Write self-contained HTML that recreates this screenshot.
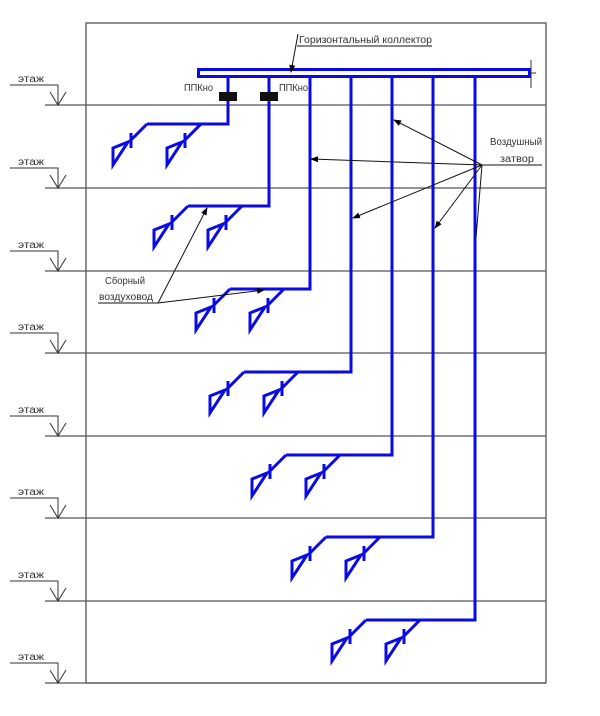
<!DOCTYPE html>
<html><head><meta charset="utf-8"><style>html,body{margin:0;padding:0;background:#fff}svg{display:block}</style></head>
<body>
<svg width="600" height="716" viewBox="0 0 600 716" xmlns="http://www.w3.org/2000/svg" font-family="Liberation Sans, sans-serif">
<defs>
<g id="spr" fill="none" stroke="#0a0ae6" stroke-width="3">
<path d="M0,0 L-18,18"/><path d="M-16,9 L-16,24"/><path d="M-19,18 L-34,24 L-34,41 Z"/>
</g>
<marker id="ar" markerWidth="8" markerHeight="6" refX="7" refY="3" orient="auto" markerUnits="userSpaceOnUse"><path d="M0,0 L8,3 L0,6 Z" fill="#000"/></marker>
</defs>
<g stroke="#555" stroke-width="1.3" fill="none">
<rect x="86" y="23" width="460" height="660"/>
<path d="M45,105H546M45,188H546M45,271H546M45,353H546M45,436H546M45,518H546M45,601H546M45,683H546"/>
</g>
<g stroke="#333" stroke-width="1" fill="none">
<path d="M10,85H58V105M50,92L58,105L66,92"/>
<path d="M10,168H58V188M50,175L58,188L66,175"/>
<path d="M10,251H58V271M50,258L58,271L66,258"/>
<path d="M10,333H58V353M50,340L58,353L66,340"/>
<path d="M10,416H58V436M50,423L58,436L66,423"/>
<path d="M10,498H58V518M50,505L58,518L66,505"/>
<path d="M10,581H58V601M50,588L58,601L66,588"/>
<path d="M10,663H58V683M50,670L58,683L66,670"/>
</g>
<g font-size="10" fill="#333">
<text x="18" y="82" textLength="26" lengthAdjust="spacingAndGlyphs">этаж</text>
<text x="18" y="165" textLength="26" lengthAdjust="spacingAndGlyphs">этаж</text>
<text x="18" y="248" textLength="26" lengthAdjust="spacingAndGlyphs">этаж</text>
<text x="18" y="330" textLength="26" lengthAdjust="spacingAndGlyphs">этаж</text>
<text x="18" y="413" textLength="26" lengthAdjust="spacingAndGlyphs">этаж</text>
<text x="18" y="495" textLength="26" lengthAdjust="spacingAndGlyphs">этаж</text>
<text x="18" y="578" textLength="26" lengthAdjust="spacingAndGlyphs">этаж</text>
<text x="18" y="660" textLength="26" lengthAdjust="spacingAndGlyphs">этаж</text>
</g>
<rect x="198.5" y="69.5" width="331" height="7" fill="none" stroke="#0a0ae6" stroke-width="3"/>
<path d="M531,60V88M531,73H536" stroke="#333" stroke-width="1"/>
<g fill="none" stroke="#0a0ae6" stroke-width="3">
<path d="M228,77V124H147"/>
<path d="M269,77V206H188"/>
<path d="M310,77V289H230"/>
<path d="M351,77V372H244"/>
<path d="M392,77V455H286"/>
<path d="M433,77V537H326"/>
<path d="M475,77V620H366"/>
</g>
<use href="#spr" x="147" y="124"/><use href="#spr" x="201" y="124"/>
<use href="#spr" x="188" y="206"/><use href="#spr" x="242" y="206"/>
<use href="#spr" x="230" y="289"/><use href="#spr" x="284" y="289"/>
<use href="#spr" x="244" y="372"/><use href="#spr" x="298" y="372"/>
<use href="#spr" x="286" y="455"/><use href="#spr" x="340" y="455"/>
<use href="#spr" x="326" y="537"/><use href="#spr" x="380" y="537"/>
<use href="#spr" x="366" y="620"/><use href="#spr" x="420" y="620"/>
<rect x="219" y="92" width="18" height="9" fill="#111"/>
<rect x="260" y="92" width="18" height="9" fill="#111"/>
<g font-size="10" fill="#333">
<text x="184" y="91" textLength="29" lengthAdjust="spacingAndGlyphs">ППКно</text>
<text x="279" y="91" textLength="29" lengthAdjust="spacingAndGlyphs">ППКно</text>
<text x="299" y="43" textLength="133" lengthAdjust="spacingAndGlyphs">Горизонтальный коллектор</text>
<text x="490" y="145" textLength="52" lengthAdjust="spacingAndGlyphs">Воздушный</text>
<text x="500" y="162" textLength="34" lengthAdjust="spacingAndGlyphs">затвор</text>
<text x="105" y="284" textLength="40" lengthAdjust="spacingAndGlyphs">Сборный</text>
<text x="99" y="300" textLength="54" lengthAdjust="spacingAndGlyphs">воздуховод</text>
</g>
<g stroke="#111" stroke-width="1" fill="none">
<path d="M297,46H432"/>
<path d="M298,34L291,72" marker-end="url(#ar)"/>
<path d="M482,165H542"/>
<path d="M482,165L394,120" marker-end="url(#ar)"/>
<path d="M482,165L311,159" marker-end="url(#ar)"/>
<path d="M482,165L353,218" marker-end="url(#ar)"/>
<path d="M482,165L435,228" marker-end="url(#ar)"/>
<path d="M482,165L476,238"/>
<path d="M98,303H158"/>
<path d="M158,303L207,208" marker-end="url(#ar)"/>
<path d="M158,303L264,290" marker-end="url(#ar)"/>
</g>
</svg>
</body></html>
